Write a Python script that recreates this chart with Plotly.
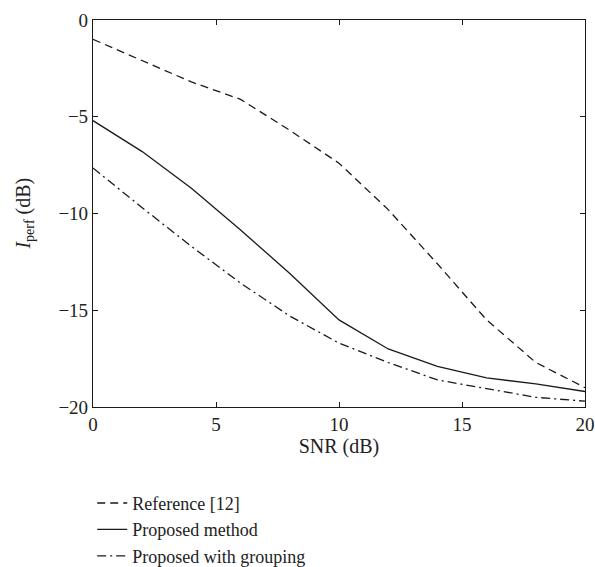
import plotly.graph_objects as go

snr = [0, 2, 4, 6, 8, 10, 12, 14, 16, 18, 20]
reference_12 = [-1.0, -2.1, -3.2, -4.1, -5.7, -7.4, -9.8, -12.6, -15.5, -17.7, -19.0]
proposed = [-5.2, -6.8, -8.7, -10.85, -13.1, -15.5, -17.0, -17.9, -18.5, -18.8, -19.2]
proposed_grouping = [-7.65, -9.7, -11.7, -13.6, -15.3, -16.7, -17.7, -18.6, -19.05, -19.5, -19.7]

names = ["Reference [12]", "Proposed method", "Proposed with grouping"]
series = [reference_12, proposed, proposed_grouping]
dashes = ["8px,5px", "solid", "9px,4px,2px,4px"]

FONT = "Liberation Serif"
TXT = "#222"

fig = go.Figure()
for nm, ys, d in zip(names, series, dashes):
    fig.add_trace(go.Scatter(x=snr, y=ys, mode="lines", name=nm,
                             line=dict(color="#1a1a1a", width=1.3, dash=d)))

axis_common = dict(showline=True, linecolor="#1a1a1a", linewidth=1.2, mirror="ticks",
                   ticks="inside", ticklen=5, tickcolor="#1a1a1a", tickwidth=1,
                   showgrid=False, zeroline=False, automargin=False,
                   tickfont=dict(family=FONT, size=19, color=TXT))

fig.update_xaxes(range=[0, 20], tickvals=[0, 5, 10, 15, 20],
                 title=dict(text="SNR (dB)", font=dict(family=FONT, size=20, color=TXT), standoff=5),
                 **axis_common)
fig.update_yaxes(range=[-20, 0], tickvals=[0, -5, -10, -15, -20],
                 ticktext=["0", "\u22125", "\u221210", "\u221215", "\u221220"],
                 **axis_common)

fig.add_annotation(text="<i>I</i><sub>perf</sub> (dB)", xref="paper", yref="paper",
                   x=-0.14, y=0.5, xanchor="center", yanchor="middle", textangle=-90,
                   showarrow=False, font=dict(family=FONT, size=20, color=TXT))

fig.update_layout(
    width=595, height=567,
    margin=dict(l=93, r=10, t=20, b=160, autoexpand=False),
    paper_bgcolor="white", plot_bgcolor="white",
    showlegend=True,
    legend=dict(xref="container", yref="container", x=0.155, y=0.145,
                xanchor="left", yanchor="top",
                font=dict(family=FONT, size=18, color=TXT),
                bgcolor="rgba(0,0,0,0)", itemwidth=30, tracegroupgap=0),
)

fig.write_html("out.html")
